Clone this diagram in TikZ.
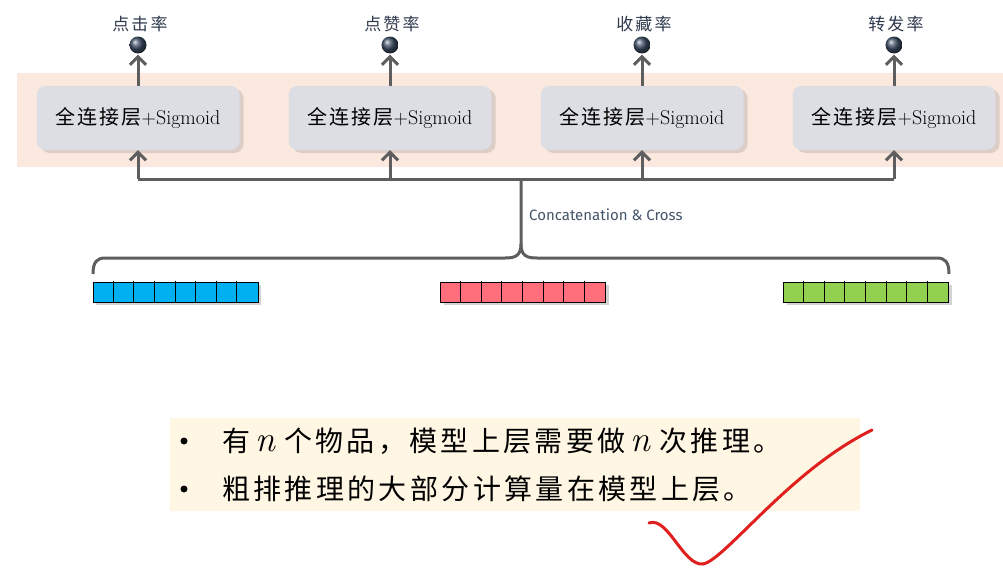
\documentclass[tikz,border=0pt]{standalone}
\usepackage{fontspec}
\newfontfamily\cjk{Noto Sans CJK SC}
\newfontfamily\cjkl[LetterSpace=10]{Noto Sans CJK SC}
\newfontfamily\cjkr[LetterSpace=12]{Noto Sans CJK SC}
\newfontfamily\cjkb[LetterSpace=12]{Noto Sans CJK SC}
\newfontfamily\fira{Fira Sans}
\usetikzlibrary{arrows.meta,shadows}
\definecolor{band}{HTML}{FBE9DF}
\definecolor{boxgray}{HTML}{DCDEE4}
\definecolor{lgray}{HTML}{5E5E5E}
\definecolor{ballc}{HTML}{3E4E66}
\definecolor{labc}{HTML}{2F3A4E}
\definecolor{cream}{HTML}{FFF7E4}
\definecolor{cblue}{HTML}{00B0F0}
\definecolor{cred}{HTML}{FF6E7A}
\definecolor{cgreen}{HTML}{92D050}
\definecolor{conc}{HTML}{44546A}
\definecolor{chk}{HTML}{E0201E}
\tikzset{
  fcbox/.style={rounded corners=9pt, fill=boxgray, minimum width=203pt, minimum height=64pt,
    inner sep=0pt, font=\fontsize{20}{22}\selectfont,
    drop shadow={opacity=0.25, shadow xshift=4pt, shadow yshift=-3pt}},
  ball/.style={circle, minimum size=17pt, inner sep=0pt, ball color=ballc},
  rate/.style={font=\cjkr\fontsize{17}{19}\selectfont, text=labc, inner sep=0pt},
  arr/.style={draw=lgray, line width=3pt, -{Straight Barb[length=8pt,width=16pt]}},
  conn/.style={draw=lgray, line width=3pt},
  bar/.style={minimum width=165pt, minimum height=20pt, inner sep=0pt, draw=black, line width=0.9pt,
    drop shadow={opacity=0.35, shadow xshift=3pt, shadow yshift=-3pt}},
  bul/.style={anchor=west, inner sep=0pt, font=\cjkb\fontsize{28}{30}\selectfont},
  dot/.style={circle, fill=black, minimum size=7pt, inner sep=0pt},
}
\newcommand{\cells}[1]{%
  \foreach \k in {1,...,7} {\draw[line width=0.9pt] ([xshift=\k*165/8 pt, yshift=1pt]#1.north west) -- ([xshift=\k*165/8 pt, yshift=-1pt]#1.south west);}}
\newcommand{\bign}{{\rmfamily\itshape\fontsize{36}{36}\selectfont n}}
\begin{document}
\begin{tikzpicture}[x=1pt,y=-1pt]
\useasboundingbox (0,0) rectangle (1003,570);
\fill[band] (17,73) rectangle (1003,167);
% boxes
\foreach \i/\x in {1/138,2/390,3/642,4/894} {
  \node[fcbox] (b\i) at (\x,118) {{\cjkl\fontsize{20}{22}\selectfont 全连接层}+Sigmoid};
  \node[ball] (o\i) at (\x,45) {};
  \coordinate (h\i) at (\x,179);
}
\node[rate] (l1) at (140,24) {点击率};
\node[rate] (l2) at (392,24) {点赞率};
\node[rate] (l3) at (644,24) {收藏率};
\node[rate] (l4) at (896,24) {转发率};
\foreach \i in {1,...,4} {
  \draw[arr] (b\i.north) -- ([yshift=-1pt]o\i.south);
  \draw[arr] (h\i) -- (b\i.south);
}
\draw[conn, line join=round] (h1) -- (h4);
% brace
\coordinate (j) at (521,179);
\draw[conn] (j) -- (521,244) .. controls (521,256) and (515,258) .. (505,258) -- (105,258) .. controls (97,258) and (93,262) .. (93,274);
\draw[conn] (521,244) .. controls (521,256) and (527,258) .. (537,258) -- (937,258) .. controls (945,258) and (949,262) .. (949,274);
\node[anchor=west, inner sep=0pt, text=conc, font=\fira\fontsize{15}{17}\selectfont] (cc) at (529,215) {Concatenation \& Cross};
% bars
\node[bar, fill=cblue] (v1) at (175.5,292) {};
\cells{v1}
\node[bar, fill=cred] (v2) at (523,292) {};
\cells{v2}
\node[bar, fill=cgreen] (v3) at (866,292) {};
\cells{v3}
% text box
\fill[cream] (170,418) rectangle (860,511);
\node[dot] (d1) at (184,441) {};
\node[dot] (d2) at (184,489) {};
\node[bul] (t1) at (222,441) {有\hspace{5pt}\bign\hspace{9pt}个物品，模型上层需要做\hspace{5pt}\bign\hspace{9pt}次推理。};
\node[bul] (t2) at (222,489) {粗排推理的大部分计算量在模型上层。};
% check mark
\draw[chk, line width=3pt, line cap=round] (649,523) .. controls (668,516) and (683,566) .. (703,564) .. controls (725,560) and (790,470) .. (872,430);
\end{tikzpicture}
\end{document}
